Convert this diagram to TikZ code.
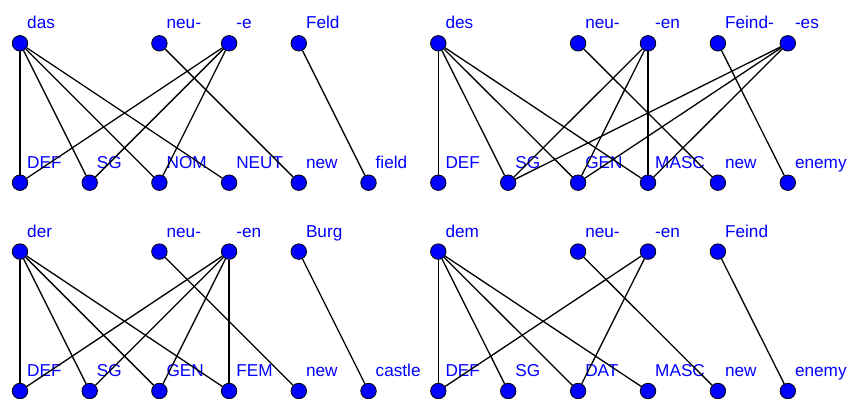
\documentclass[tikz,border=0pt]{standalone}
\usepackage{fontspec}
\setmainfont{Liberation Sans}
\definecolor{vblue}{RGB}{0,0,255}
% one vertex: circle node plus its caption above right
\newcommand{\vtx}[4]{%
  \node[vert] (#1) at (#2,#3) {};
  \node[lbl] (#1t) at ([xshift=7pt,yshift=14.5pt]#1.center) {#4};}
\tikzset{
  vert/.style={circle, draw=black, line width=0.8pt, fill=vblue,
               minimum size=15.5pt, inner sep=0pt},
  lbl/.style={anchor=base west, inner sep=0pt, text=vblue,
              font=\fontsize{17.2}{20}\selectfont},
  edge/.style={draw=black, line width=1.3pt}
}
\begin{document}
\begin{tikzpicture}[x=1pt,y=-1pt]
\useasboundingbox (0,0) rectangle (849,399);

% ---------- das neue Feld ----------
\vtx{a1}{20}{43.3}{das}
\vtx{a2}{159.4}{43.3}{neu-}
\vtx{a3}{229.1}{43.3}{-e}
\vtx{a4}{298.8}{43.3}{Feld}
\vtx{ab0}{20}{182.7}{DEF}
\vtx{ab1}{89.7}{182.7}{SG}
\vtx{ab2}{159.4}{182.7}{NOM}
\vtx{ab3}{229.1}{182.7}{NEUT}
\vtx{ab4}{298.8}{182.7}{new}
\vtx{ab5}{368.5}{182.7}{field}
\foreach \t in {ab0,ab1,ab2,ab3} \draw[edge] (a1) -- (\t);
\foreach \t in {ab0,ab1,ab2} \draw[edge] (a3) -- (\t);
\draw[edge] (a2) -- (ab4);
\draw[edge] (a4) -- (ab5);

% ---------- des neuen Feindes ----------
\vtx{b1}{438.3}{43.3}{des}
\vtx{b2}{578.1}{43.3}{neu-}
\vtx{b3}{648.0}{43.3}{-en}
\vtx{b4}{717.9}{43.3}{Feind-}
\vtx{b5}{787.8}{43.3}{-es}
\vtx{bb0}{438.3}{182.7}{DEF}
\vtx{bb1}{508.2}{182.7}{SG}
\vtx{bb2}{578.1}{182.7}{GEN}
\vtx{bb3}{648.0}{182.7}{MASC}
\vtx{bb4}{717.9}{182.7}{new}
\vtx{bb5}{787.8}{182.7}{enemy}
\foreach \t in {bb0,bb1,bb2,bb3} \draw[edge] (b1) -- (\t);
\foreach \t in {bb1,bb2,bb3} \draw[edge] (b3) -- (\t);
\foreach \t in {bb1,bb2,bb3} \draw[edge] (b5) -- (\t);
\draw[edge] (b2) -- (bb4);
\draw[edge] (b4) -- (bb5);

% ---------- der neuen Burg ----------
\vtx{c1}{20}{251.6}{der}
\vtx{c2}{159.4}{251.6}{neu-}
\vtx{c3}{229.1}{251.6}{-en}
\vtx{c4}{298.8}{251.6}{Burg}
\vtx{cb0}{20}{391}{DEF}
\vtx{cb1}{89.7}{391}{SG}
\vtx{cb2}{159.4}{391}{GEN}
\vtx{cb3}{229.1}{391}{FEM}
\vtx{cb4}{298.8}{391}{new}
\vtx{cb5}{368.5}{391}{castle}
\foreach \t in {cb0,cb1,cb2,cb3} \draw[edge] (c1) -- (\t);
\foreach \t in {cb0,cb1,cb2,cb3} \draw[edge] (c3) -- (\t);
\draw[edge] (c2) -- (cb4);
\draw[edge] (c4) -- (cb5);

% ---------- dem neuen Feind ----------
\vtx{d1}{438.3}{251.6}{dem}
\vtx{d2}{578.1}{251.6}{neu-}
\vtx{d3}{648.0}{251.6}{-en}
\vtx{d4}{717.9}{251.6}{Feind}
\vtx{db0}{438.3}{391}{DEF}
\vtx{db1}{508.2}{391}{SG}
\vtx{db2}{578.1}{391}{DAT}
\vtx{db3}{648.0}{391}{MASC}
\vtx{db4}{717.9}{391}{new}
\vtx{db5}{787.8}{391}{enemy}
\foreach \t in {db0,db1,db2,db3} \draw[edge] (d1) -- (\t);
\foreach \t in {db0,db2} \draw[edge] (d3) -- (\t);
\draw[edge] (d2) -- (db4);
\draw[edge] (d4) -- (db5);
\end{tikzpicture}
\end{document}
